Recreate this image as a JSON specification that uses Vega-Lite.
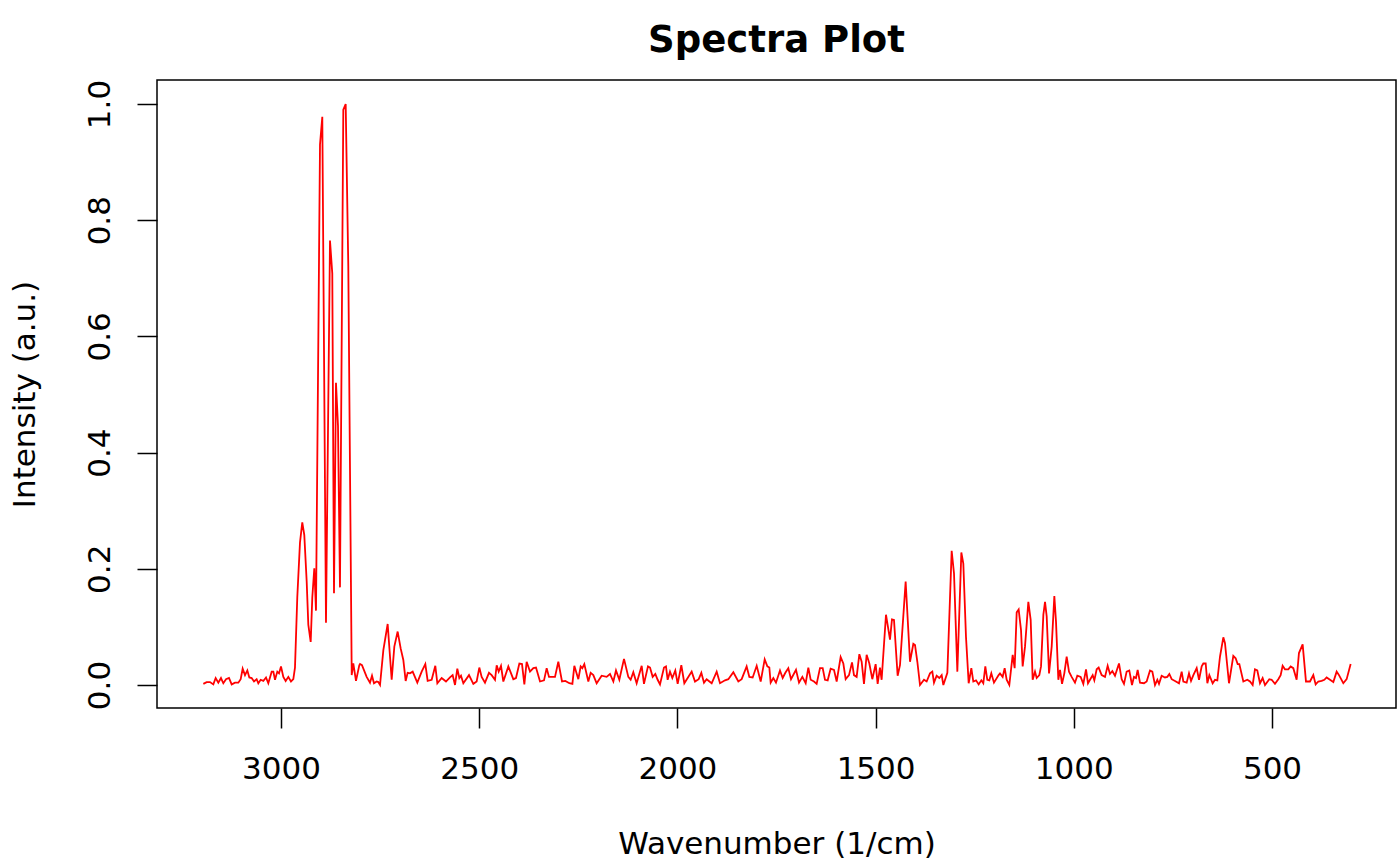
{
"$schema": "https://vega.github.io/schema/vega-lite/v6.json",
"autosize": "none",
"width": 1239,
"height": 628,
"padding": {"left": 157, "top": 80, "right": 4, "bottom": 158},
"background": "white",
"title": {"text": "Spectra Plot", "font": "DejaVu Sans", "fontSize": 37, "fontWeight": "bold", "color": "black", "anchor": "middle", "frame": "group", "baseline": "alphabetic", "offset": -10},
"config": {"view": {"stroke": "black", "strokeWidth": 1.5}},
"data": {"values": [
{"wavenumber":3195.9,"intensity":0.002},{"wavenumber":3187.5,"intensity":0.005},{"wavenumber":3179.1,"intensity":0.005},{"wavenumber":3170.7,"intensity":0.001},{"wavenumber":3164.8,"intensity":0.012},{"wavenumber":3158.1,"intensity":0.004},{"wavenumber":3151.4,"intensity":0.012},{"wavenumber":3145.5,"intensity":0.003},{"wavenumber":3138.7,"intensity":0.010},{"wavenumber":3131.2,"intensity":0.012},{"wavenumber":3124.4,"intensity":0.001},{"wavenumber":3116.0,"intensity":0.004},{"wavenumber":3107.6,"intensity":0.004},{"wavenumber":3101.7,"intensity":0.010},{"wavenumber":3096.7,"intensity":0.028},{"wavenumber":3090.8,"intensity":0.017},{"wavenumber":3084.9,"intensity":0.025},{"wavenumber":3079.9,"intensity":0.013},{"wavenumber":3074.0,"intensity":0.012},{"wavenumber":3068.1,"intensity":0.006},{"wavenumber":3061.4,"intensity":0.010},{"wavenumber":3057.2,"intensity":0.003},{"wavenumber":3051.3,"intensity":0.009},{"wavenumber":3044.6,"intensity":0.007},{"wavenumber":3037.8,"intensity":0.013},{"wavenumber":3032.0,"intensity":0.003},{"wavenumber":3023.5,"intensity":0.023},{"wavenumber":3019.3,"intensity":0.023},{"wavenumber":3015.1,"intensity":0.009},{"wavenumber":3009.3,"intensity":0.023},{"wavenumber":3005.0,"intensity":0.020},{"wavenumber":3000.0,"intensity":0.032},{"wavenumber":2994.1,"intensity":0.014},{"wavenumber":2988.2,"intensity":0.007},{"wavenumber":2981.5,"intensity":0.014},{"wavenumber":2974.8,"intensity":0.006},{"wavenumber":2968.9,"intensity":0.010},{"wavenumber":2964.7,"intensity":0.030},{"wavenumber":2958.9,"intensity":0.151},{"wavenumber":2952.1,"intensity":0.245},{"wavenumber":2946.3,"intensity":0.280},{"wavenumber":2941.2,"intensity":0.258},{"wavenumber":2935.2,"intensity":0.178},{"wavenumber":2931.1,"intensity":0.104},{"wavenumber":2925.1,"intensity":0.074},{"wavenumber":2921.0,"intensity":0.151},{"wavenumber":2916.0,"intensity":0.201},{"wavenumber":2911.7,"intensity":0.128},{"wavenumber":2901.6,"intensity":0.930},{"wavenumber":2895.8,"intensity":0.978},{"wavenumber":2886.5,"intensity":0.107},{"wavenumber":2876.4,"intensity":0.765},{"wavenumber":2870.6,"intensity":0.708},{"wavenumber":2866.3,"intensity":0.158},{"wavenumber":2861.3,"intensity":0.520},{"wavenumber":2856.2,"intensity":0.446},{"wavenumber":2851.2,"intensity":0.168},{"wavenumber":2842.8,"intensity":0.990},{"wavenumber":2836.8,"intensity":1.000},{"wavenumber":2830.2,"intensity":0.720},{"wavenumber":2821.6,"intensity":0.017},{"wavenumber":2817.6,"intensity":0.037},{"wavenumber":2810.8,"intensity":0.007},{"wavenumber":2802.5,"intensity":0.034},
{"wavenumber":2800.7,"intensity":0.036},{"wavenumber":2795.7,"intensity":0.034},{"wavenumber":2783.9,"intensity":0.014},{"wavenumber":2775.5,"intensity":0.004},{"wavenumber":2770.4,"intensity":0.016},{"wavenumber":2765.4,"intensity":0.003},{"wavenumber":2758.7,"intensity":0.006},{"wavenumber":2754.5,"intensity":0.005},{"wavenumber":2750.2,"intensity":0.000},{"wavenumber":2741.8,"intensity":0.060},{"wavenumber":2730.9,"intensity":0.105},{"wavenumber":2720.8,"intensity":0.009},{"wavenumber":2714.1,"intensity":0.066},{"wavenumber":2705.7,"intensity":0.092},{"wavenumber":2698.1,"intensity":0.063},{"wavenumber":2691.4,"intensity":0.043},{"wavenumber":2685.5,"intensity":0.007},{"wavenumber":2680.5,"intensity":0.021},{"wavenumber":2674.6,"intensity":0.020},{"wavenumber":2667.8,"intensity":0.023},{"wavenumber":2656.1,"intensity":0.004},{"wavenumber":2645.1,"intensity":0.023},{"wavenumber":2635.9,"intensity":0.036},{"wavenumber":2630.0,"intensity":0.007},{"wavenumber":2619.9,"intensity":0.009},{"wavenumber":2610.7,"intensity":0.033},{"wavenumber":2605.6,"intensity":0.003},{"wavenumber":2594.7,"intensity":0.012},{"wavenumber":2583.8,"intensity":0.006},{"wavenumber":2573.7,"intensity":0.013},{"wavenumber":2567.0,"intensity":0.017},{"wavenumber":2561.0,"intensity":0.000},{"wavenumber":2555.2,"intensity":0.028},{"wavenumber":2550.1,"intensity":0.012},{"wavenumber":2545.9,"intensity":0.016},{"wavenumber":2540.0,"intensity":0.003},{"wavenumber":2525.7,"intensity":0.017},{"wavenumber":2514.8,"intensity":0.002},{"wavenumber":2506.4,"intensity":0.006},{"wavenumber":2499.7,"intensity":0.030},{"wavenumber":2493.8,"intensity":0.014},{"wavenumber":2485.4,"intensity":0.004},{"wavenumber":2475.3,"intensity":0.021},{"wavenumber":2468.6,"intensity":0.017},{"wavenumber":2460.1,"intensity":0.009},{"wavenumber":2455.9,"intensity":0.034},{"wavenumber":2450.9,"intensity":0.023},{"wavenumber":2445.0,"intensity":0.033},{"wavenumber":2439.1,"intensity":0.006},{"wavenumber":2426.5,"intensity":0.032},{"wavenumber":2413.9,"intensity":0.010},{"wavenumber":2407.2,"intensity":0.012},{"wavenumber":2398.7,"intensity":0.037},{"wavenumber":2392.0,"intensity":0.036},{"wavenumber":2386.1,"intensity":0.001},{"wavenumber":2380.3,"intensity":0.040},{"wavenumber":2371.8,"intensity":0.023},{"wavenumber":2363.4,"intensity":0.029},{"wavenumber":2356.7,"intensity":0.030},{"wavenumber":2346.6,"intensity":0.006},{"wavenumber":2336.5,"intensity":0.008},{"wavenumber":2329.8,"intensity":0.029},{"wavenumber":2323.9,"intensity":0.014},{"wavenumber":2308.8,"intensity":0.014},{"wavenumber":2300.4,"intensity":0.040},{"wavenumber":2291.1,"intensity":0.006},{"wavenumber":2282.7,"intensity":0.007},{"wavenumber":2272.6,"intensity":0.003},{"wavenumber":2264.9,"intensity":0.002},
{"wavenumber":2260.0,"intensity":0.033},{"wavenumber":2249.9,"intensity":0.010},{"wavenumber":2244.0,"intensity":0.032},{"wavenumber":2239.8,"intensity":0.029},{"wavenumber":2234.8,"intensity":0.036},{"wavenumber":2224.7,"intensity":0.006},{"wavenumber":2218.8,"intensity":0.021},{"wavenumber":2212.1,"intensity":0.017},{"wavenumber":2203.7,"intensity":0.003},{"wavenumber":2191.1,"intensity":0.016},{"wavenumber":2178.5,"intensity":0.014},{"wavenumber":2170.0,"intensity":0.019},{"wavenumber":2161.6,"intensity":0.006},{"wavenumber":2154.9,"intensity":0.025},{"wavenumber":2146.5,"intensity":0.009},{"wavenumber":2134.7,"intensity":0.045},{"wavenumber":2123.8,"intensity":0.014},{"wavenumber":2117.9,"intensity":0.009},{"wavenumber":2111.2,"intensity":0.022},{"wavenumber":2102.8,"intensity":0.003},{"wavenumber":2090.1,"intensity":0.033},{"wavenumber":2084.3,"intensity":0.002},{"wavenumber":2074.2,"intensity":0.032},{"wavenumber":2069.1,"intensity":0.030},{"wavenumber":2062.4,"intensity":0.014},{"wavenumber":2055.7,"intensity":0.019},{"wavenumber":2049.8,"intensity":0.009},{"wavenumber":2043.9,"intensity":0.001},{"wavenumber":2033.8,"intensity":0.030},{"wavenumber":2028.8,"intensity":0.032},{"wavenumber":2024.6,"intensity":0.009},{"wavenumber":2018.7,"intensity":0.023},{"wavenumber":2012.8,"intensity":0.012},{"wavenumber":2005.3,"intensity":0.025},{"wavenumber":1999.3,"intensity":0.002},{"wavenumber":1990.1,"intensity":0.034},{"wavenumber":1982.5,"intensity":0.003},{"wavenumber":1974.1,"intensity":0.012},{"wavenumber":1964.0,"intensity":0.023},{"wavenumber":1955.6,"intensity":0.006},{"wavenumber":1946.3,"intensity":0.010},{"wavenumber":1939.6,"intensity":0.021},{"wavenumber":1932.9,"intensity":0.004},{"wavenumber":1926.2,"intensity":0.010},{"wavenumber":1913.5,"intensity":0.003},{"wavenumber":1900.9,"intensity":0.023},{"wavenumber":1892.5,"intensity":0.003},{"wavenumber":1879.9,"intensity":0.008},{"wavenumber":1871.5,"intensity":0.010},{"wavenumber":1858.9,"intensity":0.022},{"wavenumber":1846.3,"intensity":0.006},{"wavenumber":1837.9,"intensity":0.010},{"wavenumber":1825.3,"intensity":0.032},{"wavenumber":1818.5,"intensity":0.014},{"wavenumber":1810.1,"intensity":0.013},{"wavenumber":1800.0,"intensity":0.033},{"wavenumber":1789.9,"intensity":0.006},{"wavenumber":1779.8,"intensity":0.044},{"wavenumber":1773.1,"intensity":0.032},{"wavenumber":1768.1,"intensity":0.030},{"wavenumber":1764.7,"intensity":0.004},{"wavenumber":1758.0,"intensity":0.012},{"wavenumber":1751.3,"intensity":0.004},{"wavenumber":1741.2,"intensity":0.025},{"wavenumber":1734.4,"intensity":0.012},{"wavenumber":1727.7,"intensity":0.021},{"wavenumber":1720.2,"intensity":0.029},
{"wavenumber":1713.4,"intensity":0.010},{"wavenumber":1700.8,"intensity":0.026},{"wavenumber":1693.2,"intensity":0.004},{"wavenumber":1684.8,"intensity":0.014},{"wavenumber":1676.4,"intensity":0.003},{"wavenumber":1669.7,"intensity":0.030},{"wavenumber":1663.8,"intensity":0.009},{"wavenumber":1655.4,"intensity":0.006},{"wavenumber":1648.7,"intensity":0.002},{"wavenumber":1640.3,"intensity":0.029},{"wavenumber":1633.5,"intensity":0.029},{"wavenumber":1627.7,"intensity":0.009},{"wavenumber":1620.9,"intensity":0.008},{"wavenumber":1613.4,"intensity":0.028},{"wavenumber":1605.0,"intensity":0.026},{"wavenumber":1598.2,"intensity":0.006},{"wavenumber":1588.2,"intensity":0.048},{"wavenumber":1581.4,"intensity":0.037},{"wavenumber":1575.5,"intensity":0.010},{"wavenumber":1567.1,"intensity":0.017},{"wavenumber":1559.5,"intensity":0.039},{"wavenumber":1554.5,"intensity":0.017},{"wavenumber":1547.8,"intensity":0.014},{"wavenumber":1541.0,"intensity":0.053},{"wavenumber":1535.2,"intensity":0.040},{"wavenumber":1529.3,"intensity":0.002},{"wavenumber":1522.6,"intensity":0.052},{"wavenumber":1515.8,"intensity":0.037},{"wavenumber":1508.3,"intensity":0.010},{"wavenumber":1499.9,"intensity":0.036},{"wavenumber":1494.8,"intensity":0.002},{"wavenumber":1489.0,"intensity":0.030},{"wavenumber":1484.8,"intensity":0.009},{"wavenumber":1473.8,"intensity":0.121},{"wavenumber":1463.7,"intensity":0.078},{"wavenumber":1458.7,"intensity":0.113},{"wavenumber":1453.6,"intensity":0.112},{"wavenumber":1444.4,"intensity":0.016},{"wavenumber":1438.5,"intensity":0.034},{"wavenumber":1424.2,"intensity":0.178},{"wavenumber":1413.2,"intensity":0.040},{"wavenumber":1404.8,"intensity":0.071},{"wavenumber":1400.6,"intensity":0.069},{"wavenumber":1394.7,"intensity":0.040},{"wavenumber":1388.0,"intensity":0.000},{"wavenumber":1377.9,"intensity":0.009},{"wavenumber":1371.2,"intensity":0.006},{"wavenumber":1362.8,"intensity":0.020},{"wavenumber":1356.9,"intensity":0.023},{"wavenumber":1352.7,"intensity":0.004},{"wavenumber":1346.0,"intensity":0.016},{"wavenumber":1339.2,"intensity":0.012},{"wavenumber":1333.3,"intensity":0.017},{"wavenumber":1329.1,"intensity":0.000},{"wavenumber":1319.0,"intensity":0.021},{"wavenumber":1308.1,"intensity":0.231},{"wavenumber":1302.2,"intensity":0.192},{"wavenumber":1293.8,"intensity":0.023},{"wavenumber":1283.7,"intensity":0.228},{"wavenumber":1278.7,"intensity":0.209},{"wavenumber":1272.0,"intensity":0.083},{"wavenumber":1265.2,"intensity":0.003},{"wavenumber":1258.5,"intensity":0.029},{"wavenumber":1253.5,"intensity":0.006},{"wavenumber":1246.7,"intensity":0.008},{"wavenumber":1240.0,"intensity":0.001},{"wavenumber":1233.3,"intensity":0.008},{"wavenumber":1228.3,"intensity":0.003},{"wavenumber":1223.2,"intensity":0.032},{"wavenumber":1218.2,"intensity":0.009},{"wavenumber":1213.1,"intensity":0.008},{"wavenumber":1208.1,"intensity":0.020},{"wavenumber":1201.4,"intensity":0.004},{"wavenumber":1189.6,"intensity":0.017},
{"wavenumber":1186.2,"intensity":0.020},{"wavenumber":1179.5,"intensity":0.014},{"wavenumber":1174.4,"intensity":0.029},{"wavenumber":1169.4,"intensity":0.009},{"wavenumber":1162.7,"intensity":0.000},{"wavenumber":1154.2,"intensity":0.052},{"wavenumber":1149.2,"intensity":0.029},{"wavenumber":1144.1,"intensity":0.125},{"wavenumber":1139.1,"intensity":0.130},{"wavenumber":1133.2,"intensity":0.095},{"wavenumber":1129.0,"intensity":0.032},{"wavenumber":1123.1,"intensity":0.066},{"wavenumber":1114.7,"intensity":0.143},{"wavenumber":1108.8,"intensity":0.112},{"wavenumber":1103.8,"intensity":0.009},{"wavenumber":1097.9,"intensity":0.023},{"wavenumber":1093.7,"intensity":0.012},{"wavenumber":1087.0,"intensity":0.017},{"wavenumber":1082.7,"intensity":0.032},{"wavenumber":1076.8,"intensity":0.121},{"wavenumber":1072.6,"intensity":0.143},{"wavenumber":1068.4,"intensity":0.118},{"wavenumber":1062.5,"intensity":0.020},{"wavenumber":1055.8,"intensity":0.066},{"wavenumber":1049.1,"intensity":0.153},{"wavenumber":1044.9,"intensity":0.109},{"wavenumber":1039.0,"intensity":0.009},{"wavenumber":1034.8,"intensity":0.026},{"wavenumber":1029.7,"intensity":0.002},{"wavenumber":1023.9,"intensity":0.020},{"wavenumber":1018.0,"intensity":0.049},{"wavenumber":1012.1,"intensity":0.023},{"wavenumber":1005.4,"intensity":0.014},{"wavenumber":997.0,"intensity":0.004},{"wavenumber":991.1,"intensity":0.016},{"wavenumber":982.7,"intensity":0.014},{"wavenumber":976.0,"intensity":0.002},{"wavenumber":969.2,"intensity":0.027},{"wavenumber":964.2,"intensity":0.003},{"wavenumber":959.1,"intensity":0.009},{"wavenumber":952.4,"intensity":0.017},{"wavenumber":948.2,"intensity":0.008},{"wavenumber":942.3,"intensity":0.027},{"wavenumber":937.3,"intensity":0.030},{"wavenumber":929.7,"intensity":0.017},{"wavenumber":921.3,"intensity":0.014},{"wavenumber":914.6,"intensity":0.033},{"wavenumber":908.7,"intensity":0.019},{"wavenumber":902.8,"intensity":0.024},{"wavenumber":896.1,"intensity":0.016},{"wavenumber":886.0,"intensity":0.037},{"wavenumber":879.3,"intensity":0.010},{"wavenumber":873.4,"intensity":0.002},{"wavenumber":866.7,"intensity":0.023},{"wavenumber":860.0,"intensity":0.025},{"wavenumber":853.2,"intensity":0.000},{"wavenumber":848.2,"intensity":0.014},{"wavenumber":843.1,"intensity":0.012},{"wavenumber":838.9,"intensity":0.026},{"wavenumber":833.0,"intensity":0.004},{"wavenumber":822.9,"intensity":0.003},{"wavenumber":816.2,"intensity":0.006},{"wavenumber":807.8,"intensity":0.025},{"wavenumber":801.9,"intensity":0.023},{"wavenumber":795.2,"intensity":0.000},{"wavenumber":789.3,"intensity":0.009},{"wavenumber":785.1,"intensity":0.002},{"wavenumber":778.4,"intensity":0.016},{"wavenumber":770.0,"intensity":0.013},{"wavenumber":764.1,"intensity":0.014},{"wavenumber":759.0,"intensity":0.019},{"wavenumber":753.1,"intensity":0.010},
{"wavenumber":744.7,"intensity":0.007},{"wavenumber":734.6,"intensity":0.003},{"wavenumber":727.9,"intensity":0.023},{"wavenumber":723.7,"intensity":0.006},{"wavenumber":715.3,"intensity":0.004},{"wavenumber":709.4,"intensity":0.020},{"wavenumber":704.3,"intensity":0.007},{"wavenumber":698.4,"intensity":0.017},{"wavenumber":690.0,"intensity":0.029},{"wavenumber":684.1,"intensity":0.009},{"wavenumber":677.4,"intensity":0.032},{"wavenumber":673.2,"intensity":0.037},{"wavenumber":667.3,"intensity":0.037},{"wavenumber":663.1,"intensity":0.003},{"wavenumber":658.1,"intensity":0.017},{"wavenumber":649.7,"intensity":0.003},{"wavenumber":643.8,"intensity":0.009},{"wavenumber":637.9,"intensity":0.008},{"wavenumber":631.2,"intensity":0.049},{"wavenumber":622.8,"intensity":0.082},{"wavenumber":618.6,"intensity":0.072},{"wavenumber":608.5,"intensity":0.003},{"wavenumber":597.6,"intensity":0.050},{"wavenumber":591.7,"intensity":0.046},{"wavenumber":586.6,"intensity":0.036},{"wavenumber":582.4,"intensity":0.036},{"wavenumber":572.3,"intensity":0.006},{"wavenumber":562.3,"intensity":0.009},{"wavenumber":555.5,"intensity":0.006},{"wavenumber":548.8,"intensity":0.000},{"wavenumber":543.0,"intensity":0.027},{"wavenumber":537.1,"intensity":0.025},{"wavenumber":530.3,"intensity":0.003},{"wavenumber":523.6,"intensity":0.012},{"wavenumber":517.7,"intensity":0.000},{"wavenumber":506.8,"intensity":0.010},{"wavenumber":500.9,"intensity":0.009},{"wavenumber":492.5,"intensity":0.002},{"wavenumber":484.1,"intensity":0.010},{"wavenumber":478.2,"intensity":0.017},{"wavenumber":473.2,"intensity":0.033},{"wavenumber":467.3,"intensity":0.027},{"wavenumber":458.9,"intensity":0.027},{"wavenumber":453.0,"intensity":0.032},{"wavenumber":446.3,"intensity":0.029},{"wavenumber":437.9,"intensity":0.009},{"wavenumber":432.0,"intensity":0.055},{"wavenumber":422.7,"intensity":0.070},{"wavenumber":414.3,"intensity":0.006},{"wavenumber":404.2,"intensity":0.006},{"wavenumber":395.8,"intensity":0.017},{"wavenumber":389.9,"intensity":0.001},{"wavenumber":383.2,"intensity":0.006},{"wavenumber":374.8,"intensity":0.007},{"wavenumber":368.0,"intensity":0.009},{"wavenumber":362.2,"intensity":0.013},{"wavenumber":353.7,"intensity":0.009},{"wavenumber":345.3,"intensity":0.005},{"wavenumber":336.9,"intensity":0.023},{"wavenumber":331.0,"intensity":0.017},{"wavenumber":320.1,"intensity":0.003},{"wavenumber":311.7,"intensity":0.010},{"wavenumber":301.6,"intensity":0.036}
]},
"mark": {"type": "line", "color": "#FF0000", "strokeWidth": 1.8},
"encoding": {
"x": {"field": "wavenumber", "type": "quantitative",
"scale": {"domain": [3312.8, 187.2], "nice": false, "zero": false},
"axis": {"values": [500, 1000, 1500, 2000, 2500, 3000], "format": "d", "title": "Wavenumber (1/cm)", "grid": false, "domain": false, "tickSize": 20, "tickColor": "black", "tickWidth": 1.5, "labelFont": "DejaVu Sans", "labelFontSize": 31, "labelColor": "black", "labelBaseline": "alphabetic", "labelPadding": 50, "labelFlush": false, "labelOverlap": false, "titleFont": "DejaVu Sans", "titleFontSize": 31, "titleFontWeight": "normal", "titleColor": "black", "titleX": 619.5, "titleY": 145, "titleBaseline": "alphabetic", "titleAlign": "center"}},
"y": {"field": "intensity", "type": "quantitative",
"scale": {"domain": [-0.0396, 1.0413], "nice": false, "zero": false},
"axis": {"values": [0, 0.2, 0.4, 0.6, 0.8, 1], "format": ".1f", "title": "Intensity (a.u.)", "grid": false, "domain": false, "tickSize": 20, "tickColor": "black", "tickWidth": 1.5, "labelFont": "DejaVu Sans", "labelFontSize": 31, "labelColor": "black", "labelAngle": 270, "labelAlign": "center", "labelBaseline": "alphabetic", "labelPadding": 28, "labelFlush": false, "labelOverlap": false, "titleFont": "DejaVu Sans", "titleFontSize": 31, "titleFontWeight": "normal", "titleColor": "black", "titleAngle": 270, "titleX": -123, "titleY": 314, "titleBaseline": "alphabetic", "titleAlign": "center"}}
}
}
